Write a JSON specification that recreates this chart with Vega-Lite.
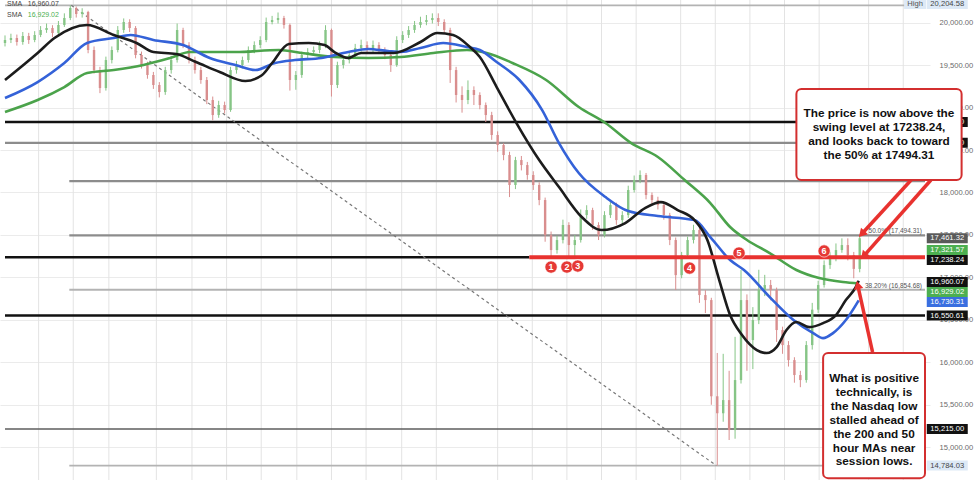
{
  "$schema": "https://vega.github.io/schema/vega-lite/v6.json",
  "width": 930,
  "height": 480,
  "autosize": {"type": "none"},
  "padding": {"left": 0, "top": 0, "right": 45, "bottom": 0},
  "background": "white",
  "config": {"view": {"stroke": null}, "axisX": {"disable": true}},
  "resolve": {"scale": {"color": "independent", "strokeWidth": "independent"}},
  "datasets": {
    "vgrid": [{"t":34},{"t":69},{"t":105},{"t":153},{"t":189},{"t":224},{"t":259},{"t":295},{"t":330},{"t":365},{"t":401},{"t":436},{"t":498},{"t":533},{"t":568},{"t":603},{"t":638},{"t":683},{"t":718},{"t":753},{"t":788},{"t":823},{"t":873},{"t":908}],
    "levels": [
      {"p":20204.58,"t1":0,"t2":930,"k":"fib"},
      {"p":18830,"t1":0,"t2":930,"k":"black"},
      {"p":18585,"t1":0,"t2":930,"k":"gray"},
      {"p":18133.9,"t1":65,"t2":930,"k":"gray"},
      {"p":17494.31,"t1":65,"t2":930,"k":"gray"},
      {"p":17238.24,"t1":0,"t2":530,"k":"black"},
      {"p":16854.68,"t1":65,"t2":930,"k":"fib"},
      {"p":16550.61,"t1":0,"t2":930,"k":"black"},
      {"p":15215,"t1":0,"t2":930,"k":"dark"},
      {"p":14784.03,"t1":65,"t2":930,"k":"fib"}
    ],
    "trend": [{"t1":67,"p1":20204.58,"t2":719,"p2":14784.03}],
    "swing": [{"t1":530,"t2":930,"p":17238.24}],
    "candles": [
      {"t":0,"o":19760,"h":19850,"l":19720,"c":19796},
      {"t":6,"o":19796,"h":19870,"l":19760,"c":19819},
      {"t":12,"o":19819,"h":19860,"l":19730,"c":19772},
      {"t":18,"o":19772,"h":19890,"l":19740,"c":19843},
      {"t":24,"o":19843,"h":19880,"l":19750,"c":19796},
      {"t":30,"o":19796,"h":19900,"l":19770,"c":19855},
      {"t":36,"o":19855,"h":19960,"l":19830,"c":19914},
      {"t":42,"o":19914,"h":19990,"l":19880,"c":19937},
      {"t":48,"o":19937,"h":19970,"l":19830,"c":19878},
      {"t":54,"o":19878,"h":20020,"l":19850,"c":19973},
      {"t":60,"o":19973,"h":20110,"l":19950,"c":20055},
      {"t":66,"o":20055,"h":20204.58,"l":20030,"c":20173},
      {"t":72,"o":20173,"h":20190,"l":20060,"c":20102},
      {"t":78,"o":20102,"h":20170,"l":20060,"c":20126},
      {"t":84,"o":20126,"h":20140,"l":19640,"c":19678},
      {"t":90,"o":19678,"h":19720,"l":19400,"c":19442},
      {"t":96,"o":19442,"h":19480,"l":19170,"c":19230},
      {"t":102,"o":19230,"h":19600,"l":19200,"c":19560},
      {"t":108,"o":19560,"h":19720,"l":19520,"c":19678},
      {"t":114,"o":19678,"h":19960,"l":19650,"c":19914},
      {"t":120,"o":19914,"h":20050,"l":19880,"c":20008},
      {"t":126,"o":20008,"h":20040,"l":19890,"c":19937},
      {"t":132,"o":19937,"h":19960,"l":19580,"c":19619},
      {"t":138,"o":19619,"h":19660,"l":19460,"c":19501},
      {"t":144,"o":19501,"h":19540,"l":19340,"c":19384},
      {"t":150,"o":19384,"h":19420,"l":19220,"c":19266},
      {"t":156,"o":19266,"h":19300,"l":19120,"c":19183},
      {"t":162,"o":19183,"h":19480,"l":19150,"c":19442},
      {"t":168,"o":19442,"h":19610,"l":19400,"c":19560},
      {"t":174,"o":19560,"h":19990,"l":19530,"c":19914},
      {"t":180,"o":19914,"h":19940,"l":19700,"c":19737},
      {"t":186,"o":19737,"h":19770,"l":19520,"c":19560},
      {"t":192,"o":19560,"h":19600,"l":19400,"c":19442},
      {"t":198,"o":19442,"h":19480,"l":19280,"c":19325},
      {"t":204,"o":19325,"h":19360,"l":19040,"c":19089},
      {"t":210,"o":19089,"h":19130,"l":18850,"c":18912},
      {"t":216,"o":18912,"h":19080,"l":18880,"c":19030},
      {"t":222,"o":19030,"h":19070,"l":18930,"c":18971},
      {"t":228,"o":18971,"h":19480,"l":18950,"c":19442},
      {"t":234,"o":19442,"h":19550,"l":19400,"c":19501},
      {"t":240,"o":19501,"h":19600,"l":19460,"c":19560},
      {"t":246,"o":19560,"h":19720,"l":19530,"c":19678},
      {"t":252,"o":19678,"h":19780,"l":19640,"c":19737},
      {"t":258,"o":19737,"h":19840,"l":19700,"c":19796},
      {"t":264,"o":19796,"h":20060,"l":19770,"c":20008},
      {"t":270,"o":20008,"h":20080,"l":19980,"c":20031},
      {"t":276,"o":20031,"h":20120,"l":19990,"c":20055},
      {"t":282,"o":20055,"h":20080,"l":19930,"c":19973},
      {"t":288,"o":19973,"h":19990,"l":19200,"c":19325},
      {"t":294,"o":19325,"h":19430,"l":19210,"c":19384},
      {"t":300,"o":19384,"h":19660,"l":19350,"c":19619},
      {"t":306,"o":19619,"h":19700,"l":19580,"c":19654},
      {"t":312,"o":19654,"h":19720,"l":19610,"c":19678},
      {"t":318,"o":19678,"h":19780,"l":19640,"c":19737},
      {"t":324,"o":19737,"h":19970,"l":19700,"c":19914},
      {"t":330,"o":19914,"h":19930,"l":19130,"c":19266},
      {"t":336,"o":19266,"h":19540,"l":19230,"c":19501},
      {"t":342,"o":19501,"h":19600,"l":19460,"c":19560},
      {"t":348,"o":19560,"h":19660,"l":19520,"c":19619},
      {"t":354,"o":19619,"h":19750,"l":19580,"c":19702},
      {"t":360,"o":19702,"h":19800,"l":19660,"c":19737},
      {"t":366,"o":19737,"h":19780,"l":19630,"c":19678},
      {"t":372,"o":19678,"h":19790,"l":19640,"c":19737},
      {"t":378,"o":19737,"h":19770,"l":19630,"c":19678},
      {"t":384,"o":19678,"h":19710,"l":19570,"c":19619},
      {"t":390,"o":19619,"h":19650,"l":19420,"c":19501},
      {"t":396,"o":19501,"h":19840,"l":19480,"c":19796},
      {"t":402,"o":19796,"h":19900,"l":19760,"c":19855},
      {"t":408,"o":19855,"h":19960,"l":19820,"c":19914},
      {"t":414,"o":19914,"h":20020,"l":19880,"c":19973},
      {"t":420,"o":19973,"h":20070,"l":19940,"c":20008},
      {"t":426,"o":20008,"h":20090,"l":19970,"c":20031},
      {"t":432,"o":20031,"h":20110,"l":19990,"c":20055},
      {"t":438,"o":20055,"h":20110,"l":19960,"c":20008},
      {"t":444,"o":20008,"h":20040,"l":19870,"c":19914},
      {"t":450,"o":19914,"h":19940,"l":19290,"c":19442},
      {"t":456,"o":19442,"h":19480,"l":19060,"c":19148},
      {"t":462,"o":19148,"h":19250,"l":18940,"c":19089},
      {"t":468,"o":19089,"h":19320,"l":19040,"c":19207},
      {"t":474,"o":19207,"h":19250,"l":19030,"c":19148},
      {"t":480,"o":19148,"h":19180,"l":18980,"c":19030},
      {"t":486,"o":19030,"h":19060,"l":18830,"c":18912},
      {"t":492,"o":18912,"h":18950,"l":18620,"c":18677},
      {"t":498,"o":18677,"h":18720,"l":18480,"c":18559},
      {"t":504,"o":18559,"h":18580,"l":18380,"c":18441},
      {"t":510,"o":18441,"h":18480,"l":17946,"c":18088},
      {"t":516,"o":18088,"h":18420,"l":18040,"c":18382},
      {"t":522,"o":18382,"h":18430,"l":18260,"c":18323},
      {"t":528,"o":18323,"h":18360,"l":18150,"c":18206},
      {"t":534,"o":18206,"h":18250,"l":18030,"c":18088},
      {"t":540,"o":18088,"h":18120,"l":17850,"c":17911},
      {"t":546,"o":17911,"h":17940,"l":17420,"c":17499},
      {"t":552,"o":17499,"h":17540,"l":17240,"c":17322},
      {"t":558,"o":17322,"h":17490,"l":17280,"c":17440},
      {"t":564,"o":17440,"h":17680,"l":17400,"c":17617},
      {"t":570,"o":17617,"h":17650,"l":17250,"c":17381},
      {"t":576,"o":17381,"h":17500,"l":17245,"c":17440},
      {"t":582,"o":17440,"h":17800,"l":17410,"c":17734},
      {"t":588,"o":17734,"h":17850,"l":17690,"c":17793},
      {"t":594,"o":17793,"h":17820,"l":17560,"c":17617},
      {"t":600,"o":17617,"h":17650,"l":17440,"c":17499},
      {"t":606,"o":17499,"h":17780,"l":17470,"c":17734},
      {"t":612,"o":17734,"h":17900,"l":17700,"c":17852},
      {"t":618,"o":17852,"h":17880,"l":17620,"c":17675},
      {"t":624,"o":17675,"h":17780,"l":17630,"c":17734},
      {"t":630,"o":17734,"h":18080,"l":17700,"c":18029},
      {"t":636,"o":18029,"h":18200,"l":18000,"c":18147},
      {"t":642,"o":18147,"h":18260,"l":18110,"c":18206},
      {"t":648,"o":18206,"h":18230,"l":17920,"c":17970},
      {"t":654,"o":17970,"h":18000,"l":17860,"c":17911},
      {"t":660,"o":17911,"h":17950,"l":17800,"c":17852},
      {"t":666,"o":17852,"h":17880,"l":17680,"c":17734},
      {"t":672,"o":17734,"h":17760,"l":17380,"c":17440},
      {"t":678,"o":17440,"h":17470,"l":16851,"c":17027},
      {"t":684,"o":17027,"h":17300,"l":16990,"c":17263},
      {"t":690,"o":17263,"h":17480,"l":17220,"c":17440},
      {"t":696,"o":17440,"h":17620,"l":17400,"c":17558},
      {"t":702,"o":17558,"h":17580,"l":16700,"c":16792},
      {"t":708,"o":16792,"h":16850,"l":16580,"c":16733},
      {"t":714,"o":16733,"h":16760,"l":15500,"c":15600},
      {"t":720,"o":15600,"h":16110,"l":14784.03,"c":15400},
      {"t":726,"o":15400,"h":16100,"l":15300,"c":15555},
      {"t":732,"o":15555,"h":15900,"l":15085,"c":15202},
      {"t":738,"o":15202,"h":16300,"l":15100,"c":15791},
      {"t":744,"o":15791,"h":17087,"l":15750,"c":16733},
      {"t":750,"o":16733,"h":16800,"l":15900,"c":16262},
      {"t":756,"o":16262,"h":16650,"l":15920,"c":16497},
      {"t":762,"o":16497,"h":17090,"l":16450,"c":16851},
      {"t":768,"o":16851,"h":17030,"l":16780,"c":16910},
      {"t":774,"o":16910,"h":16970,"l":16730,"c":16851},
      {"t":780,"o":16851,"h":16880,"l":16240,"c":16380},
      {"t":786,"o":16380,"h":16420,"l":16100,"c":16203},
      {"t":792,"o":16203,"h":16250,"l":15950,"c":16026},
      {"t":798,"o":16026,"h":16060,"l":15760,"c":15850},
      {"t":804,"o":15850,"h":15900,"l":15707,"c":15791},
      {"t":810,"o":15791,"h":16250,"l":15760,"c":16203},
      {"t":816,"o":16203,"h":16700,"l":16150,"c":16620},
      {"t":822,"o":16620,"h":16960,"l":16580,"c":16910},
      {"t":828,"o":16910,"h":17200,"l":16880,"c":17145},
      {"t":834,"o":17145,"h":17300,"l":17100,"c":17228},
      {"t":840,"o":17228,"h":17400,"l":17190,"c":17322},
      {"t":846,"o":17322,"h":17460,"l":17290,"c":17381},
      {"t":852,"o":17381,"h":17460,"l":17200,"c":17263},
      {"t":858,"o":17263,"h":17300,"l":16990,"c":17100},
      {"t":864,"o":17100,"h":17480,"l":17060,"c":17461.32}
    ],
    "ma": [
      {"s":"g","t":0,"v":18948},{"s":"g","t":33,"v":19089},{"s":"g","t":60,"v":19242},{"s":"g","t":83,"v":19407},{"s":"g","t":110,"v":19442},{"s":"g","t":140,"v":19501},{"s":"g","t":167,"v":19584},{"s":"g","t":187,"v":19654},{"s":"g","t":233,"v":19654},{"s":"g","t":277,"v":19678},{"s":"g","t":300,"v":19643},{"s":"g","t":333,"v":19596},{"s":"g","t":367,"v":19584},{"s":"g","t":400,"v":19596},{"s":"g","t":433,"v":19643},{"s":"g","t":467,"v":19678},{"s":"g","t":487,"v":19643},{"s":"g","t":513,"v":19525},{"s":"g","t":547,"v":19325},{"s":"g","t":580,"v":19007},{"s":"g","t":607,"v":18818},{"s":"g","t":633,"v":18582},{"s":"g","t":660,"v":18418},{"s":"g","t":687,"v":18147},{"s":"g","t":713,"v":17876},{"s":"g","t":733,"v":17593},{"s":"g","t":750,"v":17440},{"s":"g","t":773,"v":17287},{"s":"g","t":800,"v":17087},{"s":"g","t":823,"v":16992},{"s":"g","t":847,"v":16945},{"s":"g","t":863,"v":16929.02},
      {"s":"b","t":0,"v":19113},{"s":"b","t":33,"v":19301},{"s":"b","t":60,"v":19525},{"s":"b","t":83,"v":19761},{"s":"b","t":110,"v":19819},{"s":"b","t":127,"v":19855},{"s":"b","t":150,"v":19796},{"s":"b","t":180,"v":19737},{"s":"b","t":207,"v":19584},{"s":"b","t":233,"v":19501},{"s":"b","t":253,"v":19442},{"s":"b","t":273,"v":19525},{"s":"b","t":293,"v":19560},{"s":"b","t":320,"v":19584},{"s":"b","t":347,"v":19654},{"s":"b","t":367,"v":19690},{"s":"b","t":387,"v":19666},{"s":"b","t":400,"v":19654},{"s":"b","t":420,"v":19702},{"s":"b","t":443,"v":19761},{"s":"b","t":467,"v":19713},{"s":"b","t":480,"v":19678},{"s":"b","t":497,"v":19537},{"s":"b","t":520,"v":19325},{"s":"b","t":543,"v":18971},{"s":"b","t":560,"v":18582},{"s":"b","t":580,"v":18229},{"s":"b","t":607,"v":17946},{"s":"b","t":630,"v":17781},{"s":"b","t":660,"v":17723},{"s":"b","t":697,"v":17675},{"s":"b","t":713,"v":17475},{"s":"b","t":733,"v":17204},{"s":"b","t":747,"v":17087},{"s":"b","t":773,"v":16768},{"s":"b","t":797,"v":16498},{"s":"b","t":817,"v":16344},{"s":"b","t":827,"v":16285},{"s":"b","t":837,"v":16344},{"s":"b","t":850,"v":16498},{"s":"b","t":863,"v":16730.31},
      {"s":"k","t":0,"v":19325},{"s":"k","t":33,"v":19643},{"s":"k","t":50,"v":19819},{"s":"k","t":83,"v":19973},{"s":"k","t":110,"v":19855},{"s":"k","t":133,"v":19761},{"s":"k","t":150,"v":19654},{"s":"k","t":173,"v":19631},{"s":"k","t":193,"v":19537},{"s":"k","t":217,"v":19419},{"s":"k","t":243,"v":19313},{"s":"k","t":260,"v":19384},{"s":"k","t":270,"v":19525},{"s":"k","t":287,"v":19749},{"s":"k","t":307,"v":19761},{"s":"k","t":323,"v":19737},{"s":"k","t":333,"v":19654},{"s":"k","t":347,"v":19584},{"s":"k","t":360,"v":19643},{"s":"k","t":393,"v":19643},{"s":"k","t":420,"v":19772},{"s":"k","t":437,"v":19878},{"s":"k","t":453,"v":19855},{"s":"k","t":470,"v":19713},{"s":"k","t":480,"v":19596},{"s":"k","t":497,"v":19242},{"s":"k","t":517,"v":18818},{"s":"k","t":540,"v":18382},{"s":"k","t":560,"v":18064},{"s":"k","t":583,"v":17711},{"s":"k","t":603,"v":17558},{"s":"k","t":627,"v":17640},{"s":"k","t":647,"v":17817},{"s":"k","t":663,"v":17887},{"s":"k","t":680,"v":17793},{"s":"k","t":697,"v":17675},{"s":"k","t":710,"v":17440},{"s":"k","t":722,"v":16969},{"s":"k","t":733,"v":16556},{"s":"k","t":745,"v":16321},{"s":"k","t":760,"v":16144},{"s":"k","t":770,"v":16109},{"s":"k","t":780,"v":16179},{"s":"k","t":790,"v":16380},{"s":"k","t":800,"v":16474},{"s":"k","t":813,"v":16415},{"s":"k","t":827,"v":16462},{"s":"k","t":840,"v":16556},{"s":"k","t":850,"v":16733},{"s":"k","t":860,"v":16886},{"s":"k","t":863,"v":16960.07}
    ],
    "fiblabels": [
      {"lab":"50.0% (17,494.31)","t":927,"p":17494.31},
      {"lab":"38.20% (16,854.68)","t":927,"p":16854.68}
    ],
    "circles": [
      {"n":"1","t":552,"p":17122},
      {"n":"2","t":568,"p":17122},
      {"n":"3","t":579,"p":17134},
      {"n":"4","t":692,"p":17110},
      {"n":"5","t":742,"p":17287},
      {"n":"6","t":828,"p":17311}
    ],
    "arrows": [
      {"id":1,"t1":916,"p1":18147,"t2":866,"p2":17511},
      {"id":2,"t1":936,"p1":18147,"t2":868,"p2":17251},
      {"id":3,"t1":877,"p1":16121,"t2":862,"p2":16910}
    ],
    "boxes": [
      {"t1":800,"t2":967,"p1":19219,"p2":18147},
      {"t1":827,"t2":930,"p1":16109,"p2":14636}
    ],
    "notes": [
      {"t":883.5,"p":18936,"txt":["The price is now above the","swing level at 17238.24,","and looks back to toward","the 50% at 17494.31"]},
      {"t":878.5,"p":15815,"txt":["What is positive","technically, is","the Nasdaq low","stalled ahead of","the 200 and 50","hour MAs near","session lows."]}
    ],
    "tags": [
      {"lab":"20,204.58","p":20220,"k":"hl"},
      {"lab":"18,830.00","p":18830,"k":"lvl"},
      {"lab":"18,585.00","p":18585,"k":"lvl"},
      {"lab":"17,461.32","p":17461.32,"k":"last"},
      {"lab":"17,321.57","p":17321.57,"k":"grn"},
      {"lab":"17,238.24","p":17205,"k":"lvl"},
      {"lab":"16,960.07","p":16945,"k":"lvl"},
      {"lab":"16,929.02","p":16827,"k":"grn"},
      {"lab":"16,730.31","p":16710,"k":"blu"},
      {"lab":"16,550.61","p":16550.61,"k":"lvl"},
      {"lab":"15,215.00","p":15215,"k":"lvl"},
      {"lab":"14,784.03","p":14784.03,"k":"hl"}
    ],
    "high": [{"lab":"High","t":920,"p":20220}],
    "legend": [
      {"t":2,"p":20222,"lab":"SMA","k":"a"},
      {"t":23,"p":20222,"lab":"16,960.07","k":"a"},
      {"t":2,"p":20092,"lab":"SMA","k":"a"},
      {"t":23,"p":20092,"lab":"16,929.02","k":"g"}
    ]
  },
  "layer": [
    {
      "data": {"name": "vgrid"},
      "mark": {"type": "rule", "color": "#e3e3e3", "strokeWidth": 1},
      "encoding": {
        "x": {"field": "t", "type": "quantitative", "axis": null, "scale": {"domain": [0, 930], "nice": false, "zero": false}}
      }
    },
    {
      "data": {"name": "levels"},
      "mark": {"type": "rule"},
      "encoding": {
        "x": {"field": "t1", "type": "quantitative", "axis": null},
        "x2": {"field": "t2"},
        "y": {
          "field": "p", "type": "quantitative", "title": null,
          "scale": {"domain": [14614, 20267], "nice": false, "zero": false},
          "axis": {
            "orient": "right",
            "values": [15000,15250,15500,15750,16000,16250,16500,16750,17000,17250,17500,17750,18000,18250,18500,18750,19000,19250,19500,19750,20000],
            "format": ",.2f",
            "labelFont": "Liberation Sans",
            "labelFontSize": 7.6,
            "labelColor": "#6a6a6a",
            "labelPadding": 9,
            "labelAlign": "left",
            "labelBound": false,
            "labelFlush": false,
            "labelOverlap": false,
            "ticks": false,
            "domain": false,
            "grid": true,
            "gridColor": "#ebebeb",
            "gridWidth": 1,
            "title": null
          }
        },
        "color": {"field": "k", "type": "nominal", "legend": null,
          "scale": {"domain": ["black","gray","fib","dark"], "range": ["#111111","#8c8c8c","#b3b3b3","#5e5e5e"]}},
        "strokeWidth": {"field": "k", "type": "nominal", "legend": null,
          "scale": {"domain": ["black","gray","fib","dark"], "range": [2.5,1.5,1.5,2]}}
      }
    },
    {
      "data": {"name": "trend"},
      "mark": {"type": "rule", "color": "#777777", "strokeWidth": 1.2, "strokeDash": [3, 3]},
      "encoding": {
        "x": {"field": "t1", "type": "quantitative"},
        "x2": {"field": "t2"},
        "y": {"field": "p1", "type": "quantitative", "title": null},
        "y2": {"field": "p2"}
      }
    },
    {
      "data": {"name": "candles"},
      "mark": {"type": "rule", "strokeWidth": 1},
      "encoding": {
        "x": {"field": "t", "type": "quantitative"},
        "y": {"field": "l", "type": "quantitative", "title": null},
        "y2": {"field": "h"},
        "color": {"condition": {"test": "datum.c >= datum.o", "value": "#86c586"}, "value": "#d98e8e"}
      }
    },
    {
      "data": {"name": "candles"},
      "mark": {"type": "bar", "width": 2.4},
      "encoding": {
        "x": {"field": "t", "type": "quantitative"},
        "y": {"field": "o", "type": "quantitative", "title": null},
        "y2": {"field": "c"},
        "color": {"condition": {"test": "datum.c >= datum.o", "value": "#86c586"}, "value": "#d98e8e"}
      }
    },
    {
      "data": {"name": "ma"},
      "mark": {"type": "line", "strokeWidth": 2.6, "interpolate": "monotone"},
      "encoding": {
        "x": {"field": "t", "type": "quantitative"},
        "y": {"field": "v", "type": "quantitative", "title": null},
        "color": {"field": "s", "type": "nominal", "legend": null,
          "scale": {"domain": ["g","b","k"], "range": ["#4ba34b","#3462d8","#1c1c1c"]}},
        "order": {"field": "t", "type": "quantitative"}
      }
    },
    {
      "data": {"name": "swing"},
      "mark": {"type": "rule", "color": "#e8322f", "strokeWidth": 4},
      "encoding": {
        "x": {"field": "t1", "type": "quantitative"},
        "x2": {"field": "t2"},
        "y": {"field": "p", "type": "quantitative", "title": null}
      }
    },
    {
      "data": {"name": "fiblabels"},
      "mark": {"type": "text", "align": "right", "baseline": "bottom", "dy": -1, "font": "Liberation Sans", "fontSize": 6.5, "color": "#555555"},
      "encoding": {
        "x": {"field": "t", "type": "quantitative"},
        "y": {"field": "p", "type": "quantitative", "title": null},
        "text": {"field": "lab"}
      }
    },
    {
      "data": {"name": "circles"},
      "mark": {"type": "point", "shape": "circle", "filled": true, "size": 150, "color": "#e53935", "opacity": 1, "stroke": "#ffffff", "strokeWidth": 0.6},
      "encoding": {
        "x": {"field": "t", "type": "quantitative"},
        "y": {"field": "p", "type": "quantitative", "title": null}
      }
    },
    {
      "data": {"name": "circles"},
      "mark": {"type": "text", "align": "center", "baseline": "middle", "font": "Liberation Sans", "fontWeight": "bold", "fontSize": 9, "color": "#ffffff"},
      "encoding": {
        "x": {"field": "t", "type": "quantitative"},
        "y": {"field": "p", "type": "quantitative", "title": null},
        "text": {"field": "n"}
      }
    },
    {
      "data": {"name": "tags"},
      "mark": {"type": "tick", "orient": "horizontal", "size": 41, "thickness": 10, "opacity": 1},
      "encoding": {
        "x": {"datum": 952.5, "type": "quantitative"},
        "y": {"field": "p", "type": "quantitative", "title": null},
        "color": {"field": "k", "type": "nominal", "legend": null,
          "scale": {"domain": ["hl","lvl","last","grn","blu"], "range": ["#dde9f6","#111111","#5a5a5a","#4caf50","#3a6fe0"]}}
      }
    },
    {
      "data": {"name": "tags"},
      "mark": {"type": "text", "align": "center", "baseline": "middle", "font": "Liberation Sans", "fontSize": 7.6},
      "encoding": {
        "x": {"datum": 952.5, "type": "quantitative"},
        "y": {"field": "p", "type": "quantitative", "title": null},
        "text": {"field": "lab"},
        "color": {"condition": {"test": "datum.k == 'hl'", "value": "#444444"}, "value": "#ffffff"}
      }
    },
    {
      "data": {"name": "arrows"},
      "mark": {"type": "rule", "color": "#e8322f", "strokeWidth": 3.5},
      "encoding": {
        "x": {"field": "t1", "type": "quantitative"},
        "x2": {"field": "t2"},
        "y": {"field": "p1", "type": "quantitative", "title": null},
        "y2": {"field": "p2"}
      }
    },
    {
      "data": {"name": "arrows"},
      "transform": [{"filter": "datum.id == 1"}],
      "mark": {"type": "point", "shape": "triangle-up", "filled": true, "size": 90, "angle": 223, "color": "#e8322f", "opacity": 1},
      "encoding": {
        "x": {"field": "t2", "type": "quantitative"},
        "y": {"field": "p2", "type": "quantitative", "title": null}
      }
    },
    {
      "data": {"name": "arrows"},
      "transform": [{"filter": "datum.id == 2"}],
      "mark": {"type": "point", "shape": "triangle-up", "filled": true, "size": 90, "angle": 222, "color": "#e8322f", "opacity": 1},
      "encoding": {
        "x": {"field": "t2", "type": "quantitative"},
        "y": {"field": "p2", "type": "quantitative", "title": null}
      }
    },
    {
      "data": {"name": "arrows"},
      "transform": [{"filter": "datum.id == 3"}],
      "mark": {"type": "point", "shape": "triangle-up", "filled": true, "size": 90, "angle": 347, "color": "#e8322f", "opacity": 1},
      "encoding": {
        "x": {"field": "t2", "type": "quantitative"},
        "y": {"field": "p2", "type": "quantitative", "title": null}
      }
    },
    {
      "data": {"name": "boxes"},
      "mark": {"type": "rect", "fill": "#ffffff", "stroke": "#d32f2f", "strokeWidth": 2, "cornerRadius": 5},
      "encoding": {
        "x": {"field": "t1", "type": "quantitative"},
        "x2": {"field": "t2"},
        "y": {"field": "p1", "type": "quantitative", "title": null},
        "y2": {"field": "p2"}
      }
    },
    {
      "data": {"name": "notes"},
      "mark": {"type": "text", "align": "center", "baseline": "middle", "font": "Liberation Sans", "fontWeight": "bold", "fontSize": 11.8, "lineHeight": 13.9, "color": "#111111"},
      "encoding": {
        "x": {"field": "t", "type": "quantitative"},
        "y": {"field": "p", "type": "quantitative", "title": null},
        "text": {"field": "txt"}
      }
    },
    {
      "data": {"name": "high"},
      "mark": {"type": "tick", "orient": "horizontal", "size": 22, "thickness": 10, "color": "#dde9f6", "opacity": 1},
      "encoding": {
        "x": {"field": "t", "type": "quantitative"},
        "y": {"field": "p", "type": "quantitative", "title": null}
      }
    },
    {
      "data": {"name": "high"},
      "mark": {"type": "text", "align": "center", "baseline": "middle", "font": "Liberation Sans", "fontSize": 7.6, "color": "#555555"},
      "encoding": {
        "x": {"field": "t", "type": "quantitative"},
        "y": {"field": "p", "type": "quantitative", "title": null},
        "text": {"field": "lab"}
      }
    },
    {
      "data": {"name": "legend"},
      "mark": {"type": "text", "align": "left", "baseline": "middle", "font": "Liberation Sans", "fontSize": 7},
      "encoding": {
        "x": {"field": "t", "type": "quantitative"},
        "y": {"field": "p", "type": "quantitative", "title": null},
        "text": {"field": "lab"},
        "color": {"condition": {"test": "datum.k == 'g'", "value": "#4caf50"}, "value": "#444444"}
      }
    }
  ]
}
